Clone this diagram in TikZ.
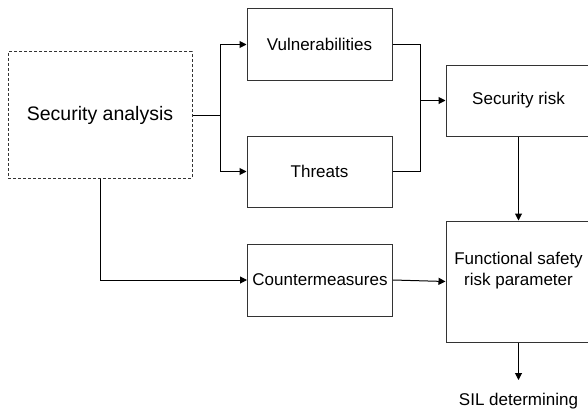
\documentclass[tikz,border=0pt]{standalone}
\usepackage{fontspec}
\setmainfont{Liberation Sans}
\usetikzlibrary{arrows.meta}
\begin{document}
\begin{tikzpicture}[x=1pt,y=-1pt,
  box/.style={draw=black!80, line width=1pt, minimum width=145pt, inner sep=0pt, font=\fontsize{17}{21}\selectfont, align=center},
  conn/.style={draw=black, line width=1pt},
  arr/.style={conn, -{Triangle[length=7pt,width=7pt]}}]
\useasboundingbox (0,0) rectangle (588,412);
\node[box, dash pattern=on 3pt off 2pt, minimum width=184pt, minimum height=126pt, font=\fontsize{19.5}{23}\selectfont] (sa) at (100,115) {Security analysis};
\node[box, minimum height=71pt] (vul) at (319.5,44.5) {Vulnerabilities};
\node[box, minimum height=71pt] (thr) at (319.5,171.5) {Threats};
\node[box, minimum height=72pt] (cm) at (320,280) {Countermeasures};
\node[box, minimum height=71pt] (sr) at (518.5,100.5) {Security risk};
\node[box, minimum height=121pt] (fsr) at (518.5,281.5) {};
\node[font=\fontsize{17}{21}\selectfont, align=center, inner sep=0pt] (fsrt) at (518.5,270.5) {Functional safety\\risk parameter};
\node[font=\fontsize{17}{21}\selectfont, inner sep=0pt] (sil) at (518.5,401) {SIL determining};
\coordinate (split) at (220,115);
\coordinate (join) at (420,100.5);
\coordinate (silt) at (518.5,380);
\draw[conn] (sa.east) -- (split);
\draw[arr] (split) |- (vul.west);
\draw[arr] (split) |- (thr.west);
\draw[conn] (vul.east) -| (join);
\draw[conn] (thr.east) -| (join);
\draw[arr] (join) -- (sr.west);
\draw[arr] (sr.south) -- (fsr.north);
\draw[arr] (sa.south) |- (cm.west);
\draw[arr] (cm.east) -- (fsr.west);
\draw[arr] (fsr.south) -- (silt);
\end{tikzpicture}
\end{document}
